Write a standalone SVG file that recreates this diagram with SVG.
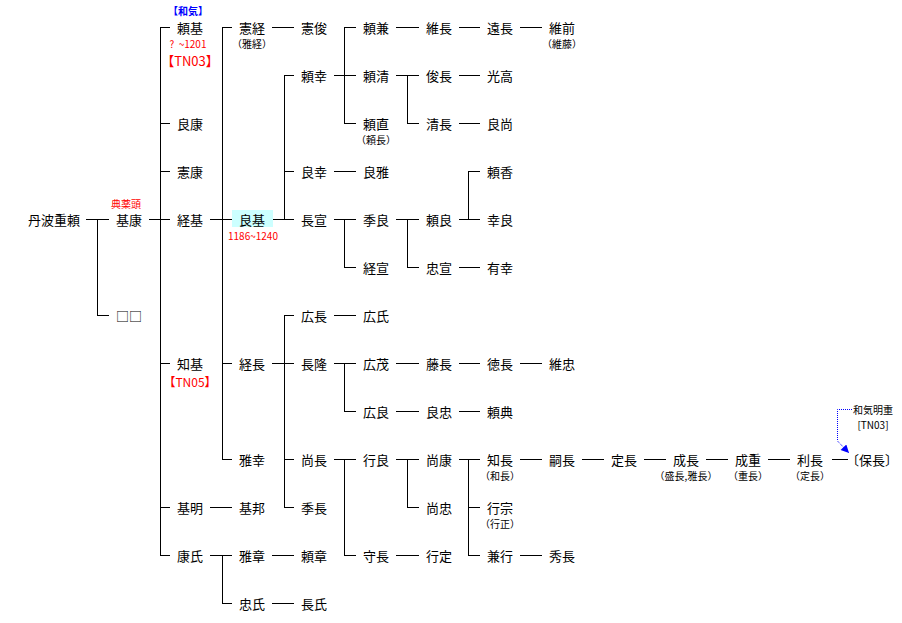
<svg xmlns="http://www.w3.org/2000/svg" width="902" height="623" viewBox="0 0 902 623">
<style>
text{font-family:"Noto Sans CJK JP","Noto Sans CJK SC",sans-serif;text-anchor:middle;dominant-baseline:central;fill:#000}
.n{font-size:13px}
.s{font-size:10px}
.red{fill:#ff0000}
.blue{fill:#0000ff;font-weight:bold}
#connectors path{fill:none;stroke:#000;stroke-width:1;shape-rendering:crispEdges}
#note path{fill:none;stroke:#0000ff;stroke-width:1;stroke-dasharray:1 1}
</style>
<defs>
<marker id="ah" viewBox="0 0 10 10" refX="10" refY="5" markerWidth="9" markerHeight="8" orient="auto" markerUnits="userSpaceOnUse"><path d="M0,0 L10,5 L0,10 z" fill="#0000ff"/></marker>
</defs>
<rect width="902" height="623" fill="#fff"/>
<g id="connectors">
<path d="M86 219.5H109M97.5 219V316M97 315.5H109"/>
<path d="M149 219.5H170M160.5 27V556M160 27.5H170M160 123.5H170M160 171.5H170M160 363.5H170M160 507.5H170M160 555.5H170"/>
<path d="M210 219.5H232M222.5 27V460M222 27.5H232M222 363.5H232M222 459.5H232"/>
<path d="M272 27.5H294"/>
<path d="M273 219.5H294M284.5 75V220M284 75.5H294M284 171.5H294"/>
<path d="M334 75.5H356M344.5 27V124M344 27.5H356M344 123.5H356"/>
<path d="M396 27.5H419M459 27.5H480M520 27.5H542"/>
<path d="M396 75.5H419M407.5 75V124M407 123.5H419"/>
<path d="M459 75.5H480M459 123.5H480"/>
<path d="M334 171.5H356"/>
<path d="M334 219.5H356M344.5 219V268M344 267.5H356"/>
<path d="M396 219.5H419M407.5 219V268M407 267.5H419"/>
<path d="M459 219.5H480M468.5 171V220M468 171.5H480"/>
<path d="M459 267.5H480"/>
<path d="M272 363.5H294M284.5 315V508M284 315.5H294M284 459.5H294M284 507.5H294"/>
<path d="M334 315.5H356"/>
<path d="M334 363.5H356M344.5 363V412M344 411.5H356"/>
<path d="M396 363.5H419M459 363.5H480M520 363.5H542"/>
<path d="M396 411.5H419M459 411.5H480"/>
<path d="M334 459.5H356M344.5 459V556M344 555.5H356"/>
<path d="M396 459.5H419M407.5 459V508M407 507.5H419"/>
<path d="M459 459.5H480M468.5 459V556M468 507.5H480M468 555.5H480"/>
<path d="M520 459.5H542M582 459.5H604M644 459.5H666M706 459.5H728M768 459.5H790M832 459.5H848"/>
<path d="M520 555.5H542"/>
<path d="M396 555.5H419"/>
<path d="M210 507.5H232"/>
<path d="M210 555.5H232M222.5 555V604M222 603.5H232"/>
<path d="M272 555.5H294M272 603.5H294"/>
</g>
<g id="note">
<path d="M852 409.5H837.5V441L849 453" marker-end="url(#ah)"/>
<text class="s" x="873" y="409">和気明重</text>
<text class="s" x="873" y="424">[TN03]</text>
</g>
<g id="n-shigeyori"><text class="n" x="54" y="219">丹波重頼</text></g>
<g id="n-motoyasu"><text class="s red" x="126" y="203">典薬頭</text><text class="n" x="129" y="219">基康</text></g>
<g id="n-unknown"><text class="n" x="129" y="315">□□</text></g>
<g id="n-yorimoto"><text class="s blue" x="188" y="10">【和気】</text><text class="n" x="190" y="27">頼基</text><text class="s red" x="188" y="43">? &#160;~1201</text><text class="n red" x="190" y="60">【TN03】</text></g>
<g id="n-yoshiyasu"><text class="n" x="190" y="123">良康</text></g>
<g id="n-noriyasu"><text class="n" x="190" y="171">憲康</text></g>
<g id="n-tsunemoto"><text class="n" x="190" y="219">経基</text></g>
<g id="n-tomomoto"><text class="n" x="190" y="363">知基</text><text class="red" style="font-size:12px" x="190" y="381.5">【TN05】</text></g>
<g id="n-motoaki"><text class="n" x="190" y="507">基明</text></g>
<g id="n-yasuuji"><text class="n" x="190" y="555">康氏</text></g>
<g id="n-noritsune"><text class="n" x="252" y="27">憲経</text><text class="s" x="252" y="43">（雅経）</text></g>
<g id="n-yoshimoto"><rect x="232" y="210" width="41" height="17" fill="#ccffff"/><text class="n" x="252" y="219">良基</text><text class="s red" x="253" y="235">1186~1240</text></g>
<g id="n-tsunenaga"><text class="n" x="252" y="363">経長</text></g>
<g id="n-masayuki"><text class="n" x="252" y="459">雅幸</text></g>
<g id="n-motokuni"><text class="n" x="252" y="507">基邦</text></g>
<g id="n-masaaki"><text class="n" x="252" y="555">雅章</text></g>
<g id="n-tadauji"><text class="n" x="252" y="603">忠氏</text></g>
<g id="n-noritoshi"><text class="n" x="314" y="27">憲俊</text></g>
<g id="n-yoriyuki"><text class="n" x="314" y="75">頼幸</text></g>
<g id="n-yoshiyuki"><text class="n" x="314" y="171">良幸</text></g>
<g id="n-naganobu"><text class="n" x="314" y="219">長宣</text></g>
<g id="n-hironaga"><text class="n" x="314" y="315">広長</text></g>
<g id="n-nagataka"><text class="n" x="314" y="363">長隆</text></g>
<g id="n-naonaga"><text class="n" x="314" y="459">尚長</text></g>
<g id="n-suenaga"><text class="n" x="314" y="507">季長</text></g>
<g id="n-yoriaki"><text class="n" x="314" y="555">頼章</text></g>
<g id="n-nagauji"><text class="n" x="314" y="603">長氏</text></g>
<g id="n-yorikane"><text class="n" x="376" y="27">頼兼</text></g>
<g id="n-yorikiyo"><text class="n" x="376" y="75">頼清</text></g>
<g id="n-yorinao"><text class="n" x="376" y="123">頼直</text><text class="s" x="376" y="139">（頼長）</text></g>
<g id="n-yoshimasa"><text class="n" x="376" y="171">良雅</text></g>
<g id="n-sueyoshi"><text class="n" x="376" y="219">季良</text></g>
<g id="n-tsunenobu"><text class="n" x="376" y="267">経宣</text></g>
<g id="n-hirouji"><text class="n" x="376" y="315">広氏</text></g>
<g id="n-hiroshige"><text class="n" x="376" y="363">広茂</text></g>
<g id="n-hiroyoshi"><text class="n" x="376" y="411">広良</text></g>
<g id="n-yukiyoshi"><text class="n" x="376" y="459">行良</text></g>
<g id="n-morinaga"><text class="n" x="376" y="555">守長</text></g>
<g id="n-korenaga"><text class="n" x="439" y="27">維長</text></g>
<g id="n-toshinaga"><text class="n" x="439" y="75">俊長</text></g>
<g id="n-kiyonaga"><text class="n" x="439" y="123">清長</text></g>
<g id="n-yoriyoshi"><text class="n" x="439" y="219">頼良</text></g>
<g id="n-tadanobu"><text class="n" x="439" y="267">忠宣</text></g>
<g id="n-fujinaga"><text class="n" x="439" y="363">藤長</text></g>
<g id="n-yoshitada"><text class="n" x="439" y="411">良忠</text></g>
<g id="n-naoyasu"><text class="n" x="439" y="459">尚康</text></g>
<g id="n-naotada"><text class="n" x="439" y="507">尚忠</text></g>
<g id="n-yukisada"><text class="n" x="439" y="555">行定</text></g>
<g id="n-tonaga"><text class="n" x="500" y="27">遠長</text></g>
<g id="n-mitsutaka"><text class="n" x="500" y="75">光高</text></g>
<g id="n-yoshinao"><text class="n" x="500" y="123">良尚</text></g>
<g id="n-yorika"><text class="n" x="500" y="171">頼香</text></g>
<g id="n-yukiyoshi2"><text class="n" x="500" y="219">幸良</text></g>
<g id="n-ariyuki"><text class="n" x="500" y="267">有幸</text></g>
<g id="n-noriosa"><text class="n" x="500" y="363">徳長</text></g>
<g id="n-yorinori"><text class="n" x="500" y="411">頼典</text></g>
<g id="n-tomonaga"><text class="n" x="500" y="459">知長</text><text class="s" x="500" y="475">（和長）</text></g>
<g id="n-yukimune"><text class="n" x="500" y="507">行宗</text><text class="s" x="500" y="523">（行正）</text></g>
<g id="n-kaneyuki"><text class="n" x="500" y="555">兼行</text></g>
<g id="n-koresaki"><text class="n" x="562" y="27">維前</text><text class="s" x="562" y="43">（維藤）</text></g>
<g id="n-koretada"><text class="n" x="562" y="363">維忠</text></g>
<g id="n-tsugunaga"><text class="n" x="562" y="459">嗣長</text></g>
<g id="n-hidenaga"><text class="n" x="562" y="555">秀長</text></g>
<g id="n-sadanaga"><text class="n" x="624" y="459">定長</text></g>
<g id="n-narinaga"><text class="n" x="686" y="459">成長</text><text class="s" x="686" y="475">（盛長,雅長）</text></g>
<g id="n-narishige"><text class="n" x="748" y="459">成重</text><text class="s" x="748" y="475">（重長）</text></g>
<g id="n-toshinaga2"><text class="n" x="810" y="459">利長</text><text class="s" x="810" y="475">（定長）</text></g>
<g id="n-yasunaga"><text class="n" x="872" y="459">〔保長〕</text></g>
</svg>
